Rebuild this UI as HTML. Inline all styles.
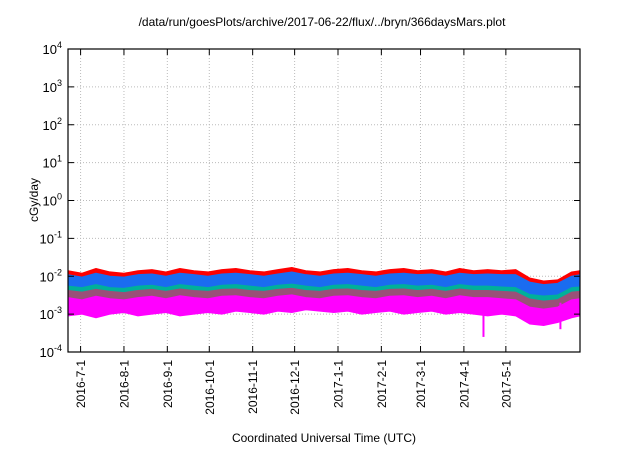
<!DOCTYPE html>
<html><head><meta charset="utf-8"><style>
body{margin:0;background:#fff;}
svg text{font-family:"Liberation Sans",sans-serif;fill:#000;}
</style></head><body>
<svg id="c" width="640" height="448" xmlns="http://www.w3.org/2000/svg">
<text x="322" y="26" font-size="12" text-anchor="middle">/data/run/goesPlots/archive/2017-06-22/flux/../bryn/366daysMars.plot</text>
<text transform="translate(38,200) rotate(-90)" font-size="12" text-anchor="middle">cGy/day</text>
<text x="324" y="442" font-size="12" text-anchor="middle">Coordinated Universal Time (UTC)</text>
<g id="grid"></g><g id="series"></g><g id="axes"></g>
</svg>
<script>
const decades=[-4,-3,-2,-1,0,1,2,3,4];
const months=["2016-7-1","2016-8-1","2016-9-1","2016-10-1","2016-11-1","2016-12-1","2017-1-1","2017-2-1","2017-3-1","2017-4-1","2017-5-1"];
const monthDays=[9,40,71,101,132,162,193,224,252,283,313];
const sampleDays=[0,10,20,30,40,50,60,70,80,90,100,110,120,130,140,150,160,170,180,190,200,210,220,230,240,250,260,270,280,290,300,310,320,330,340,350,360,366];
const redTop=[1.4,1.2,1.6,1.3,1.2,1.4,1.5,1.3,1.6,1.4,1.3,1.5,1.6,1.4,1.3,1.5,1.7,1.4,1.3,1.5,1.6,1.4,1.3,1.5,1.6,1.4,1.5,1.3,1.6,1.4,1.5,1.4,1.5,0.9,0.75,0.8,1.3,1.4];
const blueTop=[1.1,0.95,1.2,1.0,0.95,1.1,1.15,1.0,1.2,1.1,1.0,1.15,1.2,1.1,1.0,1.15,1.3,1.1,1.0,1.15,1.2,1.1,1.0,1.15,1.2,1.1,1.15,1.0,1.2,1.1,1.15,1.1,1.1,0.7,0.6,0.65,1.0,1.1];
const blueLow=[0.45,0.4,0.5,0.45,0.4,0.5,0.5,0.45,0.55,0.5,0.45,0.5,0.55,0.5,0.45,0.5,0.55,0.5,0.45,0.5,0.55,0.5,0.45,0.5,0.55,0.5,0.5,0.45,0.55,0.5,0.5,0.45,0.45,0.32,0.3,0.32,0.45,0.45];
const tealTop=[0.55,0.5,0.6,0.5,0.48,0.55,0.58,0.5,0.6,0.55,0.5,0.58,0.6,0.55,0.5,0.58,0.62,0.55,0.5,0.58,0.6,0.55,0.5,0.58,0.6,0.55,0.58,0.5,0.6,0.55,0.55,0.52,0.5,0.33,0.3,0.32,0.5,0.52];
const purpleTop=[0.42,0.38,0.45,0.4,0.37,0.42,0.45,0.4,0.46,0.42,0.4,0.45,0.46,0.42,0.4,0.45,0.48,0.42,0.4,0.45,0.46,0.42,0.4,0.45,0.46,0.42,0.45,0.4,0.46,0.42,0.42,0.4,0.38,0.25,0.22,0.24,0.38,0.4];
const magTop=[0.32,0.28,0.35,0.3,0.28,0.32,0.35,0.3,0.36,0.32,0.3,0.35,0.36,0.32,0.3,0.35,0.38,0.32,0.3,0.35,0.36,0.32,0.3,0.35,0.36,0.32,0.35,0.3,0.36,0.32,0.32,0.3,0.28,0.18,0.16,0.18,0.28,0.3];
const magLow=[0.09,0.1,0.08,0.1,0.11,0.09,0.1,0.11,0.09,0.1,0.11,0.1,0.12,0.11,0.1,0.12,0.11,0.13,0.12,0.11,0.12,0.1,0.11,0.12,0.1,0.11,0.12,0.1,0.11,0.1,0.09,0.1,0.09,0.055,0.05,0.06,0.08,0.09];
const spikeDay=[297,352];const spikeVal=[0.00025,0.0004];
const L=68,R=580,T=49,B=352,D=366;
const xs=d=>L+(R-L)*d/D, ys=v=>B-(Math.log10(v)+4)*(B-T)/8;
const NS="http://www.w3.org/2000/svg";
function mk(p,tag,at){const e=document.createElementNS(NS,tag);for(const k in at)e.setAttribute(k,at[k]);document.getElementById(p).appendChild(e);return e;}
decades.forEach(k=>{const y=ys(Math.pow(10,k));
 if(k>-4&&k<4){const g=mk('grid','line',{x1:L,x2:R,y1:y,y2:y,stroke:'#bbb','stroke-dasharray':'1,2','stroke-width':1});
 
 }
 const t=mk('axes','text',{x:L-6,y:y+5,'font-size':13,'text-anchor':'end'});
 
 
 t.innerHTML='10<tspan dy="-6" font-size="9">'+k+'</tspan>';
 mk('axes','line',{x1:L,x2:L+6,y1:y,y2:y,stroke:'#000'});mk('axes','line',{x1:R,x2:R-6,y1:y,y2:y,stroke:'#000'});
});
months.forEach((m,i)=>{const x=xs(monthDays[i]);
 const g=mk('grid','line',{x1:x,x2:x,y1:T,y2:B,stroke:'#bbb','stroke-dasharray':'1,2'});
 
 
 mk('axes','line',{x1:x,x2:x,y1:B,y2:B-6,stroke:'#000'});mk('axes','line',{x1:x,x2:x,y1:T,y2:T+6,stroke:'#000'});
 const t=mk('axes','text',{transform:`translate(${x+4.5},${B+8}) rotate(-90)`,'font-size':12,'text-anchor':'end'});
 
 
 t.textContent=m;
});
function band(top,low,scaleT,scaleL,color,name){
 let p=sampleDays.map((d,i)=>xs(d)+','+ys(top[i]*scaleT)).join(' ');
 p+=' '+sampleDays.map((d,i)=>xs(d)+','+ys(low[i]*scaleL)).reverse().join(' ');
 const e=mk('series','polygon',{points:p,fill:color,stroke:color,'stroke-width':1,'stroke-linejoin':'round'});
 
 
}
band(redTop,blueLow,0.01,0.01,'#ff0000','series-red');
band(blueTop,blueLow,0.01,0.01,'#1a6cf0','series-blue');
band(tealTop,magTop,0.01,0.0085,'#00b09a','series-teal');
band(purpleTop,magTop,0.01,0.007,'#9a5078','series-purple');
band(magTop,magLow,0.0085,0.01,'#ff00ff','series-magenta');
spikeDay.forEach((d,i)=>{const e=mk('series','line',{x1:xs(d),x2:xs(d),y1:ys(0.002),y2:ys(spikeVal[i]),stroke:'#ff00ff','stroke-width':2});
 
 });
const f=mk('axes','rect',{x:L,y:T,width:R-L,height:B-T,fill:'none',stroke:'#000','stroke-width':1.2});


</script>
</body></html>
